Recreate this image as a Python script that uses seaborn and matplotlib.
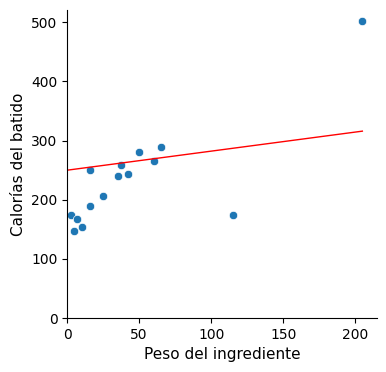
import numpy as np
import pandas as pd
import matplotlib
matplotlib.use("Agg")
import matplotlib.pyplot as plt
import seaborn as sns

# datos
peso = [3, 7, 5, 10, 16, 16, 25, 35, 37.5, 42, 50, 60, 65, 115, 205]
calorias = [175, 167, 148, 154, 251, 190, 207, 240, 258, 244, 280, 265, 290, 175, 503]

# recta del modelo
intercepto = 250
pendiente = 0.322

df = pd.DataFrame({"peso": peso, "calorias": calorias})

fig, ax = plt.subplots(figsize=(3.86, 3.72), dpi=100)
sns.scatterplot(data=df, x="peso", y="calorias", ax=ax)

xs = np.linspace(0, df["peso"].max(), 50)
ax.plot(xs, intercepto + pendiente * xs, color="red", linewidth=1)

ax.set_xlim(left=0)
ax.set_ylim(bottom=0)
ax.set_xlabel("Peso del ingrediente", fontsize=11)
ax.set_ylabel("Calorías del batido", fontsize=11)
sns.despine()

fig.subplots_adjust(left=0.174, right=0.977, top=0.973, bottom=0.145)
fig.savefig("out.png", dpi=100)
